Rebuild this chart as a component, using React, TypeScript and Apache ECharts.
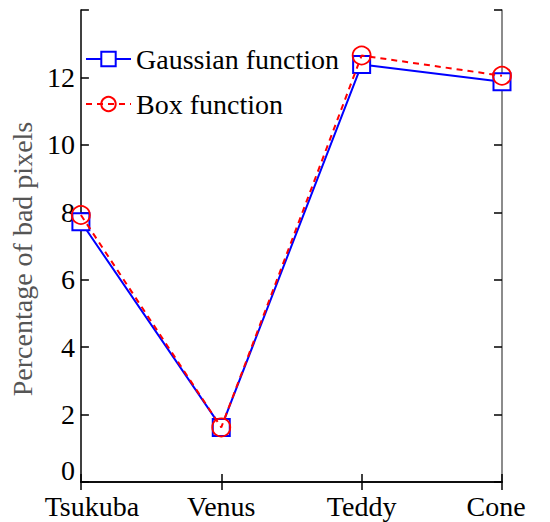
import React, { useEffect, useRef } from "react";
import * as echarts from "echarts";

const categories = ["Tsukuba", "Venus", "Teddy", "Cone"];
const gaussian = [7.72, 1.62, 12.38, 11.87];
const box = [7.92, 1.62, 12.65, 12.05];
const yTicks = [0, 2, 4, 6, 8, 10, 12];

const FONT = "Liberation Serif";
const FS = 28;

export default function App() {
  const ref = useRef<HTMLDivElement>(null);
  useEffect(() => {
    if (!ref.current) return;
    const chart = echarts.init(ref.current, undefined, { renderer: "svg" });
    const axisLine = { show: true, lineStyle: { color: "#000", width: 1.5 } };
    const tick = { show: true, inside: true, length: 8, lineStyle: { color: "#000", width: 1.5 } };
    chart.setOption({
      animation: false,
      backgroundColor: "#fff",
      grid: { left: 72, right: 48, top: 10, bottom: 40, containLabel: false },
      legend: {
        orient: "vertical",
        left: 80,
        top: 40,
        itemWidth: 45,
        itemHeight: 18,
        itemGap: 17,
        textStyle: { fontFamily: FONT, fontSize: FS, color: "#000" },
        data: ["Gaussian function", "Box function"],
      },
      xAxis: [
        {
          type: "category",
          data: categories,
          boundaryGap: false,
          position: "bottom",
          axisLine,
          axisTick: tick,
          axisLabel: {
            fontFamily: FONT,
            fontSize: FS,
            color: "#000",
            margin: 10,
            interval: 0,
            formatter: (v: string, i: number) =>
              i === 0 ? `{first|${v}}` : i === categories.length - 1 ? `{last|${v}}` : v,
            rich: {
              first: { fontFamily: FONT, fontSize: FS, color: "#000", padding: [0, 0, 0, 22] },
              last: { fontFamily: FONT, fontSize: FS, color: "#000", padding: [0, 12, 0, 0] },
            },
          },
          splitLine: { show: false },
        },
        {
          type: "category",
          data: categories,
          boundaryGap: false,
          position: "top",
          axisLine,
          axisTick: tick,
          axisLabel: { show: false },
          splitLine: { show: false },
        },
      ],
      yAxis: [
        {
          type: "value",
          min: 0,
          max: 14,
          interval: 2,
          position: "left",
          name: "Percentage of bad pixels",
          nameLocation: "middle",
          nameGap: 40,
          nameTextStyle: { fontFamily: FONT, fontSize: FS, color: "#555", padding: [0, 26, 0, 0] },
          axisLine,
          axisTick: tick,
          axisLabel: {
            fontFamily: FONT,
            fontSize: FS,
            color: "#000",
            margin: 6,
            formatter: (v: number) =>
              v === 0 ? `{zero|0}` : yTicks.includes(v) ? String(v) : "",
            rich: {
              zero: { fontFamily: FONT, fontSize: FS, color: "#000", padding: [0, 0, 24, 0] },
            },
          },
          splitLine: { show: false },
        },
        {
          type: "value",
          min: 0,
          max: 14,
          interval: 2,
          position: "right",
          axisLine: { show: true, lineStyle: { color: "#666", width: 1.5 } },
          axisTick: tick,
          axisLabel: { show: false },
          splitLine: { show: false },
        },
      ],
      series: [
        {
          name: "Gaussian function",
          type: "line",
          data: gaussian,
          symbol: "rect",
          symbolSize: 17,
          z: 2,
          lineStyle: { color: "#0000ff", width: 2, type: "solid" },
          itemStyle: { color: "#fff", borderColor: "#0000ff", borderWidth: 2 },
        },
        {
          name: "Box function",
          type: "line",
          data: box,
          symbol: "circle",
          symbolSize: 18,
          z: 3,
          lineStyle: { color: "#ff0000", width: 2, type: [6, 5] },
          itemStyle: { color: "transparent", borderColor: "#ff0000", borderWidth: 1.8 },
        },
      ],
    });
    return () => chart.dispose();
  }, []);
  return (
    <div
      ref={ref}
      style={{ position: "absolute", left: 0, top: 0, width: 550, height: 522 }}
    />
  );
}
